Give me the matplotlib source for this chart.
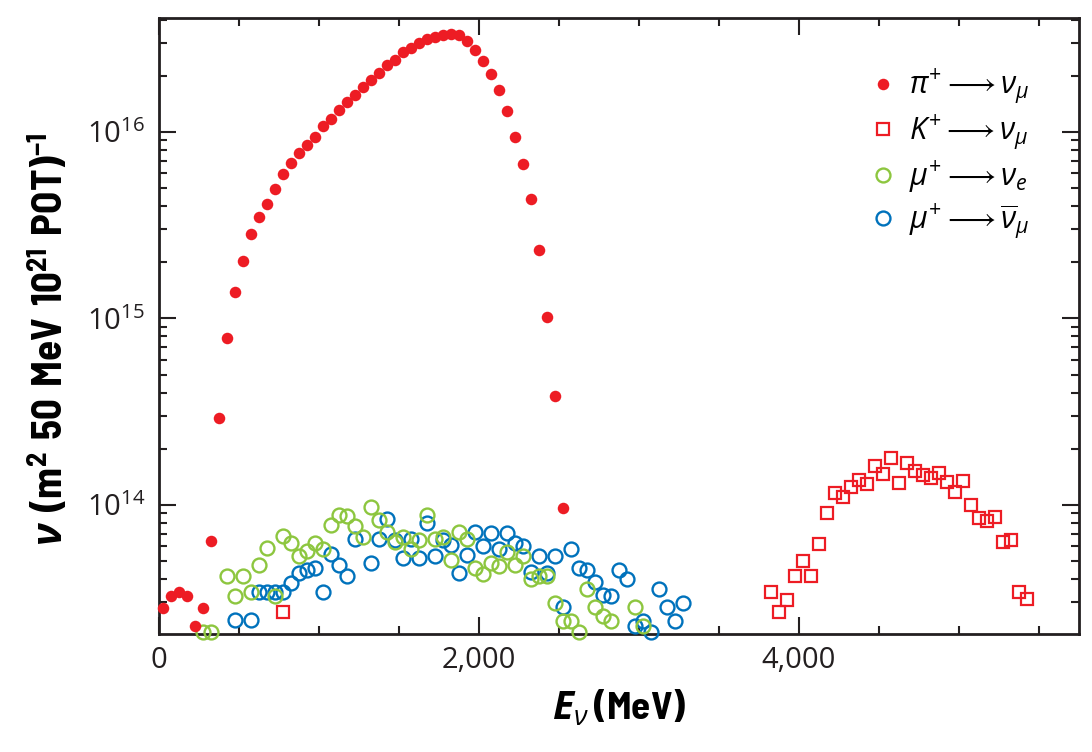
import numpy as np
import matplotlib
matplotlib.use("Agg")
import matplotlib.pyplot as plt
from matplotlib.ticker import FixedLocator, MultipleLocator, FuncFormatter, LogLocator, NullFormatter

# neutrino flux per 50 MeV bin
pi_E = [25, 75, 125, 175, 225, 275, 325, 375, 425, 475, 525, 575, 625, 675, 725,
        775, 825, 875, 925, 975, 1025, 1075, 1125, 1175, 1225, 1275, 1325, 1375,
        1425, 1475, 1525, 1575, 1625, 1675, 1725, 1775, 1825, 1875, 1925, 1975,
        2025, 2075, 2125, 2175, 2225, 2275, 2325, 2375, 2425, 2475, 2525]
pi_flux = [2.81e13, 3.26e13, 3.43e13, 3.26e13, 2.23e13, 2.81e13, 6.41e13, 2.92e14,
           7.83e14, 1.38e15, 2.03e15, 2.84e15, 3.49e15, 4.11e15, 4.95e15, 5.96e15,
           6.80e15, 7.69e15, 8.52e15, 9.37e15, 1.077e16, 1.17e16, 1.31e16, 1.44e16,
           1.58e16, 1.73e16, 1.90e16, 2.06e16, 2.27e16, 2.43e16, 2.68e16, 2.81e16,
           2.99e16, 3.14e16, 3.24e16, 3.31e16, 3.35e16, 3.32e16, 3.09e16, 2.75e16,
           2.41e16, 2.05e16, 1.67e16, 1.29e16, 9.44e15, 6.71e15, 4.36e15, 2.33e15,
           1.02e15, 3.84e14, 9.64e13]

K_E = [775, 3825, 3875, 3925, 3975, 4025, 4075, 4125, 4175, 4225, 4275, 4325, 4375,
       4425, 4475, 4525, 4575, 4625, 4675, 4725, 4775, 4825, 4875, 4925, 4975,
       5025, 5075, 5125, 5175, 5225, 5275, 5325, 5375, 5425]
K_flux = [2.67e13, 3.40e13, 2.66e13, 3.09e13, 4.13e13, 5.03e13, 4.13e13, 6.20e13,
          9.03e13, 1.155e14, 1.108e14, 1.254e14, 1.362e14, 1.291e14, 1.624e14,
          1.461e14, 1.786e14, 1.307e14, 1.673e14, 1.527e14, 1.448e14, 1.391e14,
          1.479e14, 1.323e14, 1.174e14, 1.35e14, 1.0e14, 8.55e13, 8.21e13, 8.66e13,
          6.36e13, 6.49e13, 3.40e13, 3.13e13]

# mu+ -> nu_e  (units of 1e13)
mue_E = [275, 325, 425, 475, 525, 575, 625, 675, 725, 775, 825, 875, 925, 975, 1025,
         1075, 1125, 1175, 1225, 1275, 1325, 1375, 1425, 1475, 1525, 1575, 1625,
         1675, 1725, 1775, 1825, 1875, 1925, 1975, 2025, 2075, 2125, 2175, 2225,
         2275, 2325, 2375, 2425, 2475, 2525, 2575, 2625, 2675, 2725, 2775, 2825,
         2975, 3025]
mue_flux = [2.07, 2.07, 4.15, 3.25, 4.15, 3.39, 4.73, 5.90, 3.25, 6.82, 6.26, 5.33,
            5.63, 6.26, 5.79, 7.84, 8.78, 8.73, 7.72, 6.76, 9.76, 8.28, 7.17, 6.29,
            6.76, 5.82, 6.49, 8.84, 6.56, 6.70, 5.05, 7.12, 6.52, 4.58, 4.28, 4.89,
            4.72, 5.56, 4.74, 5.33, 4.00, 4.16, 4.16, 2.97, 2.39, 2.38, 2.08, 3.55,
            2.83, 2.52, 2.38, 2.82, 2.25]

# mu+ -> anti nu_mu  (units of 1e13)
mum_E = [475, 575, 625, 675, 725, 775, 825, 875, 925, 975, 1025, 1075, 1125, 1175,
         1225, 1325, 1375, 1425, 1475, 1525, 1575, 1625, 1675, 1725, 1775, 1825,
         1875, 1925, 1975, 2025, 2075, 2125, 2175, 2225, 2275, 2325, 2375, 2425,
         2475, 2525, 2575, 2625, 2675, 2725, 2775, 2825, 2875, 2925, 2975, 3025,
         3075, 3125, 3175, 3225, 3275]
mum_flux = [2.40, 2.40, 3.39, 3.39, 3.39, 3.39, 3.83, 4.30, 4.48, 4.61, 3.42, 5.45,
            4.75, 4.13, 6.55, 4.89, 6.53, 8.43, 6.49, 5.18, 6.53, 5.18, 8.01, 5.31,
            6.45, 6.10, 4.30, 5.37, 7.19, 6.03, 7.04, 5.81, 7.05, 6.22, 6.01, 4.37,
            5.33, 4.32, 5.34, 2.85, 5.79, 4.58, 4.47, 3.88, 3.27, 3.26, 4.46, 4.00,
            2.24, 2.39, 2.08, 3.55, 2.83, 2.37, 2.97]

red = '#ED1C24'
green = '#8DC63F'
blue = '#0072BC'

plt.rcParams['font.family'] = ['Open Sans', 'DejaVu Sans']
plt.rcParams['mathtext.fontset'] = 'custom'
plt.rcParams['mathtext.rm'] = 'Open Sans'
plt.rcParams['mathtext.it'] = 'Open Sans:italic'
plt.rcParams['mathtext.bf'] = 'Barlow Semi Condensed:bold'
plt.rcParams['mathtext.bfit'] = 'Open Sans:italic:bold'

fig = plt.figure(figsize=(10.92, 7.52), dpi=100)
ax = fig.add_axes([159/1092, 1-634/752, 920/1092, 616/752])

ax.plot(mum_E, np.array(mum_flux)*1e13, 'o', ms=10, mfc='none', mec=blue, mew=1.7,
        clip_on=False, label=r'$\mu^{+} \longrightarrow \overline{\nu}_{\mu}$', zorder=3)
ax.plot(mue_E, np.array(mue_flux)*1e13, 'o', ms=10, mfc='none', mec=green, mew=1.7,
        clip_on=False, label=r'$\mu^{+} \longrightarrow \nu_{e}$', zorder=4)
ax.plot(K_E, K_flux, 's', ms=8.2, mfc='none', mec=red, mew=1.6,
        clip_on=False, label=r'$K^{+} \longrightarrow \nu_{\mu}$', zorder=5)
ax.plot(pi_E, pi_flux, 'o', ms=8.3, mfc=red, mec='none',
        clip_on=False, label=r'$\pi^{+} \longrightarrow \nu_{\mu}$', zorder=6)

ax.set_yscale('log')
ax.set_xlim(0, 5750)
ax.set_ylim(2.03e13, 4.08e16)

ax.xaxis.set_major_locator(FixedLocator([0, 2000, 4000]))
ax.xaxis.set_minor_locator(MultipleLocator(500))
ax.xaxis.set_major_formatter(FuncFormatter(lambda v, p: '{:,.0f}'.format(v)))
ax.yaxis.set_major_locator(FixedLocator([1e14, 1e15, 1e16]))
ax.yaxis.set_minor_locator(LogLocator(base=10, subs=np.arange(2, 10), numticks=20))
ax.yaxis.set_minor_formatter(NullFormatter())

ax.tick_params(which='both', direction='in', top=True, right=True, width=1.5,
               colors='#231F20', labelsize=21)
ax.tick_params(which='major', length=12)
ax.tick_params(which='minor', length=6)
ax.tick_params(axis='x', pad=9)
ax.tick_params(axis='y', pad=10)
for s in ax.spines.values():
    s.set_linewidth(2.0)
    s.set_color('#231F20')

ax.set_xlabel(r'$\mathbfit{E}_{\nu}\,\mathbf{(MeV)}$', fontsize=28, labelpad=9)
ax.set_ylabel(r'$\mathbfit{\nu}\ \mathbf{(m^{2}\ 50\ MeV\ 10^{21}\ POT)^{-1}}$',
              fontsize=29.5)
ax.yaxis.set_label_coords(-0.094, 0.478)

h, l = ax.get_legend_handles_labels()
order = [3, 2, 1, 0]
ax.legend([h[i] for i in order], [l[i] for i in order], loc='upper left',
          bbox_to_anchor=(871/1092, 1-67/752), bbox_transform=fig.transFigure,
          frameon=False, fontsize=22, handlelength=0.8, handletextpad=0.45,
          labelspacing=0.21, borderpad=0, borderaxespad=0)

fig.savefig('out.png', dpi=100)
